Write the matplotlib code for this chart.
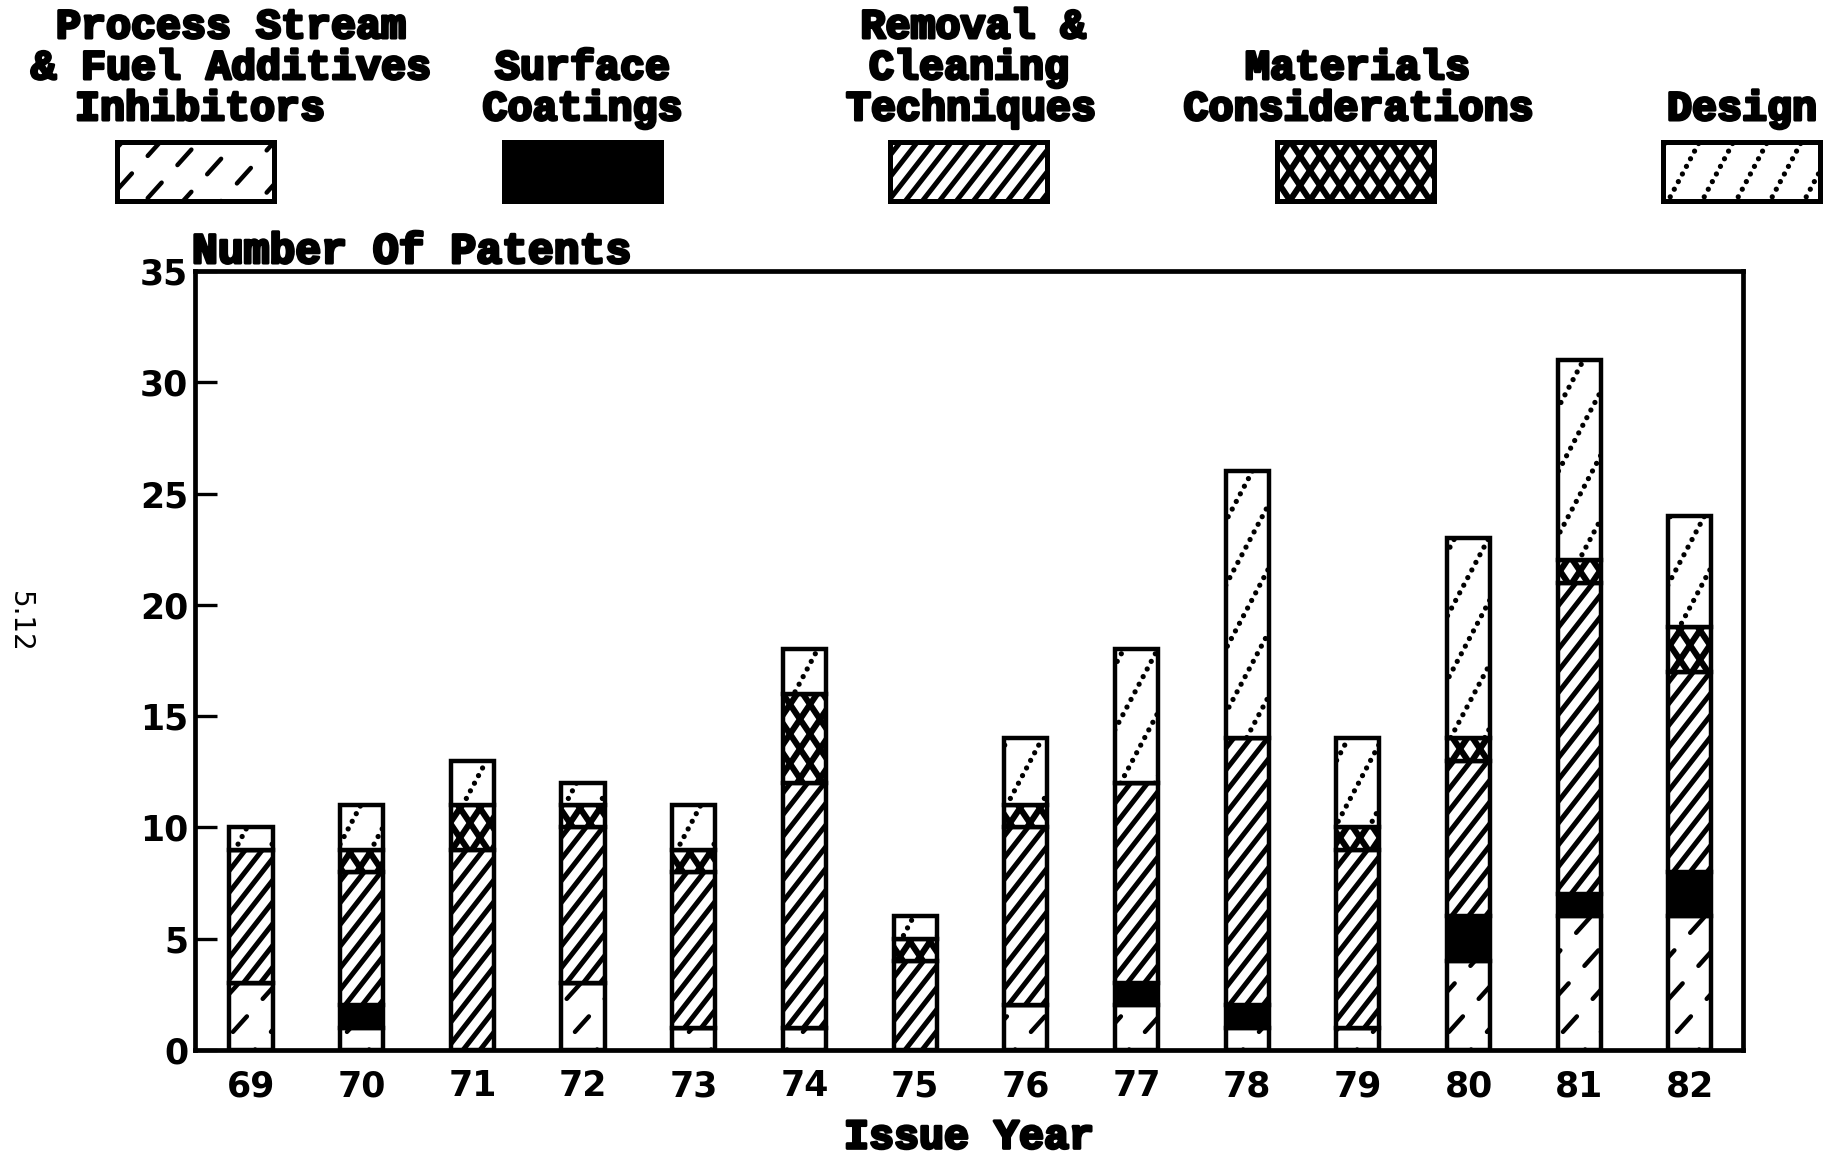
import numpy as np
import matplotlib
matplotlib.use("Agg")
import matplotlib.pyplot as plt
from matplotlib.lines import Line2D
from matplotlib.patches import Rectangle
from matplotlib.transforms import IdentityTransform
import matplotlib.patheffects as pe

# ---------------- data ----------------
years = ["69", "70", "71", "72", "73", "74", "75", "76", "77", "78", "79", "80", "81", "82"]
process = [3, 1, 0, 3, 1, 1, 0, 2, 2, 1, 1, 4, 6, 6]
surface = [0, 1, 0, 0, 0, 0, 0, 0, 1, 1, 0, 2, 1, 2]
removal = [6, 6, 9, 7, 7, 11, 4, 8, 9, 12, 8, 7, 14, 9]
materials = [0, 1, 2, 1, 1, 4, 1, 1, 0, 0, 1, 1, 1, 2]
design = [1, 2, 2, 1, 2, 2, 1, 3, 6, 12, 4, 9, 9, 5]

series_labels = [
    ["Process Stream", "& Fuel Additives", "Inhibitors"],
    ["Surface", "Coatings"],
    ["Removal &", "Cleaning", "Techniques"],
    ["Materials", "Considerations"],
    ["Design"],
]
yticks = [0, 5, 10, 15, 20, 25, 30, 35]
ylabel_text = "Number Of Patents"
xlabel_text = "Issue Year"
page_text = "5.12"

series = [process, surface, removal, materials, design]

# ---------------- styles ----------------
plt.rcParams["lines.scale_dashes"] = False
facecolors = ["white", "black", "white", "white", "white"]
# texture: (angle deg, horizontal spacing px, lw pt, linestyle, capstyle)
textures = [
    [(48, 38, 3.2, (0, (15, 17)), "round")],
    [],
    [(52, 17, 3.6, "-", "butt")],
    [(56, 20, 4.4, "-", "butt"), (124, 20, 4.4, "-", "butt")],
    [(62, 34, 3.8, (0, (0.01, 6.2)), "round")],
]

W, H = 1840, 1164
fig = plt.figure(figsize=(W / 100, H / 100), dpi=100)
ax = fig.add_axes([195 / W, 1 - 1050 / H, (1743 - 195) / W, (1050 - 271) / H])
axl = fig.add_axes([0, 0, 1, 1], zorder=-1)
axl.set_xlim(0, W)
axl.set_ylim(H, 0)
axl.axis("off")


def add_texture(target_ax, patch, specs):
    bb = patch.get_window_extent()
    if bb.height < 0.5 or bb.width < 0.5:
        return
    for ang, sp, lw, ls, cap in specs:
        t = 1.0 / np.tan(np.radians(ang))
        ytop = bb.y1 + 10
        cands = [bb.x0 - bb.y0 * t, bb.x0 - ytop * t, bb.x1 - bb.y0 * t, bb.x1 - ytop * t]
        cmin, cmax = min(cands) - sp, max(cands) + sp
        for c in np.arange(np.floor(cmin / sp) * sp, cmax, sp):
            ln = Line2D([c, c + ytop * t], [0, ytop], transform=IdentityTransform(),
                        color="black", lw=lw, linestyle=ls,
                        dash_capstyle=cap, solid_capstyle="butt", zorder=3)
            target_ax.add_artist(ln)
            ln.set_clip_box(None)
            ln.set_clip_path(patch.get_path(), patch.get_transform())


# ---------------- bars ----------------
x = np.arange(len(years))
ax.set_xlim(-0.506, 13.48)
ax.set_ylim(0, 35)
bottom = np.zeros(len(years))
bar_groups = []
for i, vals in enumerate(series):
    bars = ax.bar(x, vals, width=0.39, bottom=bottom, facecolor=facecolors[i],
                  edgecolor="black", linewidth=3.2, zorder=2)
    bar_groups.append(bars)
    bottom = bottom + np.array(vals)

for i, bars in enumerate(bar_groups):
    for p in bars.patches:
        add_texture(ax, p, textures[i])

# ---------------- axes styling ----------------
for s in ax.spines.values():
    s.set_linewidth(3.4)
ax.set_yticks(yticks)
ax.set_xticks(x)
ax.set_xticklabels(years)
ax.tick_params(axis="y", direction="in", length=16, width=2.4, pad=5, labelsize=25)
ax.tick_params(axis="x", length=0, pad=14, labelsize=25)
for lab in ax.get_xticklabels() + ax.get_yticklabels():
    lab.set_fontfamily("DejaVu Sans")
    lab.set_fontweight("bold")

title_font = dict(family="Liberation Mono", weight="bold", size=30)
stroke = [pe.withStroke(linewidth=2.2, foreground="black")]

ax.set_xlabel(xlabel_text, labelpad=10, path_effects=stroke, **title_font)

axl.text(192, 252, ylabel_text, ha="left", va="center", path_effects=stroke,
         family="Liberation Mono", weight="bold", size=31)
axl.text(20, 622, page_text, rotation=-90, ha="center", va="center",
         family="DejaVu Sans", size=20)

# ---------------- legend ----------------
box_x0, box_step, box_w, box_top, box_h = 196, 386.5, 157, 142, 59
line_gap, last_line_y = 41, 109
text_shift = [[35, 35, 4], [0, 0], [4, 0, 2], [2, 3], [0]]
for i, lines in enumerate(series_labels):
    xc = box_x0 + i * box_step
    n = len(lines)
    for j, s in enumerate(lines):
        axl.text(xc + text_shift[i][j], last_line_y - (n - 1 - j) * line_gap, s,
                 ha="center", va="center", path_effects=stroke, **title_font)
    r = Rectangle((xc - box_w / 2, box_top), box_w, box_h, facecolor=facecolors[i],
                  edgecolor="black", linewidth=3.6, zorder=2)
    axl.add_patch(r)
    add_texture(axl, r, textures[i])

fig.savefig("out.png", dpi=100)
